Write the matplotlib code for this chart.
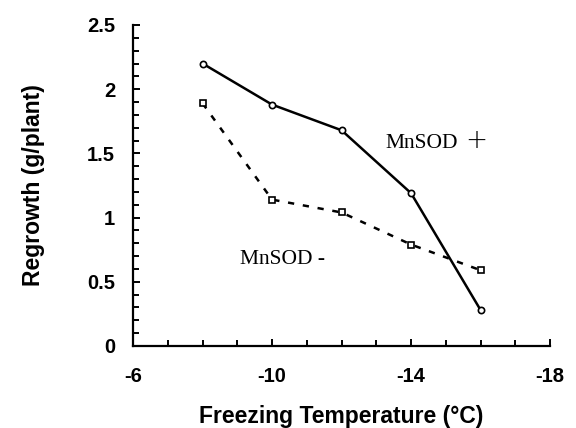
import matplotlib
matplotlib.use("Agg")
import matplotlib.pyplot as plt
from matplotlib.ticker import MultipleLocator

temps = [-8, -10, -12, -14, -16]
mnsod_plus = [2.20, 1.88, 1.68, 1.19, 0.28]
mnsod_minus = [1.89, 1.14, 1.04, 0.79, 0.59]
x_ticks = [-6, -10, -14, -18]
y_ticks = [0, 0.5, 1, 1.5, 2, 2.5]
y_labels = ["0", "0.5", "1", "1.5", "2", "2.5"]

plt.rcParams["font.family"] = "Liberation Sans"
plt.rcParams["axes.unicode_minus"] = False

fig = plt.figure(figsize=(5.76, 4.28), dpi=100)
ax = fig.add_axes([0.231, 0.1916, 0.724, 0.75])

ax.plot(temps, mnsod_plus, color="black", lw=1.8, marker="o", ms=4.5,
        mfc="white", mec="black", mew=1.2)
ax.plot(temps, mnsod_minus, color="black", lw=1.8, ls=(0, (2.5, 3.5)),
        marker="s", ms=4.2, mfc="white", mec="black", mew=1.2)

ax.set_xlim(-6, -18)
ax.set_ylim(0, 2.5)
ax.set_xticks(x_ticks)
ax.xaxis.set_minor_locator(MultipleLocator(1))
ax.set_yticks(y_ticks)
ax.set_yticklabels(y_labels)
ax.yaxis.set_minor_locator(MultipleLocator(0.1))

for s in ["top", "right"]:
    ax.spines[s].set_visible(False)
for s in ["left", "bottom"]:
    ax.spines[s].set_linewidth(1.6)

ax.tick_params(which="both", direction="in", width=1.4)
ax.tick_params(which="major", length=5)
ax.tick_params(which="minor", length=4)
ax.tick_params(axis="x", pad=15)
ax.tick_params(axis="y", pad=13)
for lab in ax.get_xticklabels() + ax.get_yticklabels():
    lab.set_fontweight("bold")
    lab.set_fontsize(14.5)

ax.set_xlabel("Freezing Temperature (°C)", fontsize=16.5, fontweight="bold", labelpad=14)
ax.set_ylabel("Regrowth (g/plant)", fontsize=16.5, fontweight="bold", labelpad=30)

ax.text(-13.25, 1.58, "MnSOD", family="Liberation Serif", fontsize=15.5, va="center")
ax.text(-15.55, 1.60, "+", family="DejaVu Sans", fontsize=19, fontweight="light",
        va="center")
ax.text(-9.08, 0.67, "MnSOD -", family="Liberation Serif", fontsize=15.5, va="center")

fig.savefig("out.png", dpi=100)
